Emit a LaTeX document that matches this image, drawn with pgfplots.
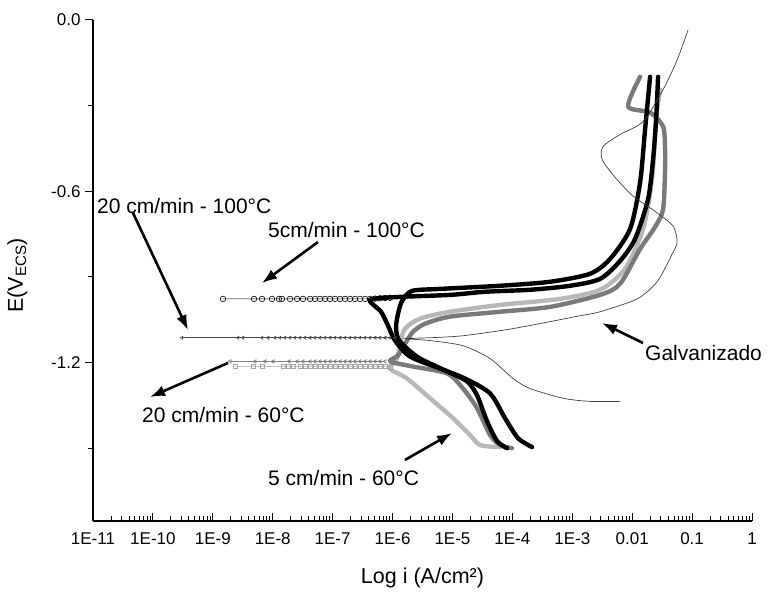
\documentclass[border=0pt]{standalone}
\usepackage{fontspec}
\setmainfont{Liberation Sans}
\usepackage{pgfplots}
\pgfplotsset{compat=1.18}
\usetikzlibrary{arrows.meta}

\tikzset{
  ann/.style={font=\fontsize{21bp}{25bp}\selectfont, inner sep=0pt},
  annarr/.style={line width=2.6bp, -{Latex[length=15bp,width=11bp]}},
  thickc/.style={line width=4.4bp, smooth, tension=0.45, line join=round, line cap=round},
  tailc/.style={line width=0.6bp, mark size=2bp, mark options={solid, line width=0.6bp}},
}

\begin{document}
\begin{tikzpicture}
\begin{axis}[
  scale only axis,
  width=659bp, height=501bp,
  xmin=-11, xmax=0, ymin=-1.755, ymax=0,
  axis x line*=bottom, axis y line*=left,
  axis line style={line width=1.2bp},
  tick style={black, line width=1bp},
  tick align=inside,
  major tick length=8bp, minor tick length=5bp,
  every major y tick/.append style={xshift=-8bp},
  every minor y tick/.append style={xshift=-5bp},
  xtick={-11,-10,-9,-8,-7,-6,-5,-4,-3,-2,-1,0},
  xticklabels={1E-11,1E-10,1E-9,1E-8,1E-7,1E-6,1E-5,1E-4,1E-3,0.01,0.1,1},
  minor xtick={-10.699,-10.523,-10.398,-10.301,-10.222,-10.155,-10.097,-10.046,
    -9.699,-9.523,-9.398,-9.301,-9.222,-9.155,-9.097,-9.046,
    -8.699,-8.523,-8.398,-8.301,-8.222,-8.155,-8.097,-8.046,
    -7.699,-7.523,-7.398,-7.301,-7.222,-7.155,-7.097,-7.046,
    -6.699,-6.523,-6.398,-6.301,-6.222,-6.155,-6.097,-6.046,
    -5.699,-5.523,-5.398,-5.301,-5.222,-5.155,-5.097,-5.046,
    -4.699,-4.523,-4.398,-4.301,-4.222,-4.155,-4.097,-4.046,
    -3.699,-3.523,-3.398,-3.301,-3.222,-3.155,-3.097,-3.046,
    -2.699,-2.523,-2.398,-2.301,-2.222,-2.155,-2.097,-2.046,
    -1.699,-1.523,-1.398,-1.301,-1.222,-1.155,-1.097,-1.046,
    -0.699,-0.523,-0.398,-0.301,-0.222,-0.155,-0.097,-0.046},
  ytick={-1.2,-0.6,0},
  yticklabels={-1.2,-0.6,0.0},
  minor ytick={-1.5,-0.9,-0.3},
  ticklabel style={font=\fontsize{17bp}{20bp}\selectfont},
  xticklabel style={yshift=-8bp},
  yticklabel style={xshift=-9bp},
  xlabel={Log i (A/cm²)},
  ylabel={E(V\textsubscript{ECS})},
  label style={font=\fontsize{21.5bp}{25bp}\selectfont},
  xlabel style={at={(axis description cs:0.5,-0.114)}, anchor=center},
  ylabel style={at={(axis description cs:-0.115,0.49)}, anchor=center},
  clip=false,
]
\coordinate (O) at (rel axis cs:0,0);

% 5 cm/min - 60C (light gray)
\addplot[thickc, color=black!28] coordinates {
  (-4.205,-1.496)(-4.539,-1.489)(-4.706,-1.454)(-4.990,-1.395)(-5.374,-1.325)
  (-5.758,-1.256)(-6.042,-1.221)(-5.925,-1.186)(-5.875,-1.134)(-5.791,-1.081)
  (-5.541,-1.046)(-5.040,-1.022)(-4.205,-0.998)(-3.204,-0.977)(-2.536,-0.945)
  (-2.119,-0.872)(-1.818,-0.732)(-1.668,-0.558)(-1.601,-0.349)(-1.534,-0.244)
};
\addplot[tailc, color=black!35, mark=square] coordinates {
  (-8.629,-1.214)(-8.329,-1.214)(-8.179,-1.214)(-7.828,-1.214)(-7.745,-1.214)
  (-7.661,-1.214)(-7.544,-1.214)(-7.461,-1.214)(-7.377,-1.214)(-7.294,-1.214)
  (-7.210,-1.214)(-7.127,-1.214)(-7.043,-1.214)(-6.960,-1.214)(-6.876,-1.214)
  (-6.793,-1.214)(-6.710,-1.214)(-6.626,-1.214)(-6.543,-1.214)(-6.459,-1.214)
  (-6.376,-1.214)(-6.292,-1.214)(-6.209,-1.214)(-6.125,-1.214)(-6.042,-1.216)
};

% 20 cm/min - 60C (medium gray)
\addplot[thickc, color=black!52] coordinates {
  (-4.005,-1.500)(-4.205,-1.489)(-4.372,-1.454)(-4.589,-1.360)(-4.823,-1.291)
  (-5.090,-1.238)(-5.658,-1.214)(-6.042,-1.196)(-5.908,-1.175)(-5.791,-1.134)
  (-5.658,-1.092)(-5.457,-1.064)(-5.040,-1.039)(-4.205,-1.022)(-3.371,-1.005)
  (-2.536,-0.963)(-2.202,-0.924)(-1.868,-0.802)(-1.618,-0.725)(-1.484,-0.663)
  (-1.451,-0.523)(-1.451,-0.453)(-1.484,-0.373)(-1.701,-0.324)(-2.068,-0.303)
  (-1.868,-0.199)
};
\addplot[tailc, color=black!50, mark=triangle, mark options={rotate=90}] coordinates {
  (-8.713,-1.196)(-8.295,-1.196)(-8.129,-1.196)(-7.995,-1.196)(-7.728,-1.196)
  (-7.594,-1.196)(-7.494,-1.196)(-7.377,-1.196)(-7.294,-1.196)(-7.210,-1.196)
  (-7.127,-1.196)(-7.043,-1.196)(-6.960,-1.196)(-6.876,-1.196)(-6.793,-1.196)
  (-6.710,-1.196)(-6.626,-1.196)(-6.543,-1.196)(-6.459,-1.196)(-6.376,-1.196)
  (-6.292,-1.196)(-6.209,-1.196)(-6.125,-1.196)
};

% 20 cm/min - 100C (black)
\addplot[thickc, color=black] coordinates {
  (-4.088,-1.500)(-4.255,-1.475)(-4.422,-1.406)(-4.589,-1.315)(-4.756,-1.266)
  (-5.090,-1.231)(-5.541,-1.186)(-5.758,-1.151)(-5.908,-1.116)(-5.942,-1.074)
  (-5.908,-1.029)(-5.841,-0.984)(-5.674,-0.949)(-5.207,-0.942)(-4.205,-0.931)
  (-3.371,-0.917)(-2.703,-0.889)(-2.369,-0.837)(-2.035,-0.732)(-1.868,-0.569)
  (-1.785,-0.384)(-1.701,-0.199)
};
\addplot[tailc, color=black!70, mark=triangle, mark size=1.8bp, mark options={rotate=90}] coordinates {
  (-9.514,-1.113)(-8.579,-1.113)(-8.496,-1.113)(-8.179,-1.113)(-8.078,-1.113)
  (-7.962,-1.113)(-7.878,-1.113)(-7.795,-1.113)(-7.711,-1.113)(-7.628,-1.113)
  (-7.544,-1.113)(-7.461,-1.113)(-7.377,-1.113)(-7.294,-1.113)(-7.210,-1.113)
  (-7.127,-1.113)(-7.043,-1.113)(-6.960,-1.113)(-6.876,-1.113)(-6.793,-1.113)
  (-6.710,-1.113)(-6.626,-1.113)(-6.543,-1.113)(-6.459,-1.113)(-6.376,-1.113)
  (-6.292,-1.113)(-6.209,-1.113)(-6.125,-1.113)(-6.042,-1.113)(-5.958,-1.113)
};

% 5 cm/min - 100C (black)
\addplot[thickc, color=black] coordinates {
  (-3.671,-1.496)(-3.905,-1.465)(-4.122,-1.395)(-4.372,-1.308)(-4.790,-1.256)
  (-5.207,-1.221)(-5.708,-1.179)(-5.958,-1.123)(-6.075,-1.071)(-6.192,-1.022)
  (-6.376,-0.980)(-5.875,-0.970)(-5.040,-0.963)(-4.456,-0.952)(-3.705,-0.945)
  (-3.037,-0.931)(-2.536,-0.907)(-2.202,-0.844)(-1.952,-0.767)(-1.735,-0.628)
  (-1.651,-0.488)(-1.601,-0.349)(-1.568,-0.199)
};
\addplot[tailc, color=black, mark=o, mark size=2.8bp, mark options={fill=white}] coordinates {
  (-8.830,-0.977)(-8.312,-0.977)(-8.179,-0.977)(-8.012,-0.977)(-7.895,-0.977)
  (-7.845,-0.977)(-7.711,-0.977)(-7.594,-0.977)(-7.494,-0.977)(-7.377,-0.977)
  (-7.294,-0.977)(-7.210,-0.977)(-7.127,-0.977)(-7.043,-0.977)(-6.960,-0.977)
  (-6.876,-0.977)(-6.793,-0.977)(-6.710,-0.977)(-6.626,-0.977)(-6.543,-0.977)
  (-6.459,-0.977)(-6.376,-0.977)(-6.292,-0.976)(-6.209,-0.975)(-6.125,-0.974)
  (-6.042,-0.973)
};

% Galvanizado (thin)
\addplot[line width=0.7bp, color=black!75, smooth, tension=0.45] coordinates {
  (-2.202,-1.336)(-2.703,-1.336)(-3.154,-1.325)(-3.705,-1.291)(-3.988,-1.256)
  (-4.372,-1.186)(-4.823,-1.141)(-5.374,-1.123)(-5.791,-1.116)(-5.374,-1.113)
  (-4.823,-1.106)(-3.988,-1.081)(-2.870,-1.036)(-2.536,-1.022)(-1.918,-0.977)
  (-1.584,-0.917)(-1.334,-0.820)(-1.250,-0.778)(-1.317,-0.722)(-1.618,-0.670)
  (-1.985,-0.617)(-2.285,-0.551)(-2.503,-0.488)(-2.486,-0.443)(-2.202,-0.401)
  (-1.818,-0.356)(-1.484,-0.244)(-1.250,-0.140)(-1.067,-0.035)
};

% annotations
\node[ann, anchor=west] at (rel axis cs:0.0061,0.6287) {20 cm/min - 100°C};
\draw[annarr] (rel axis cs:0.0607,0.6148) -- (rel axis cs:0.1442,0.3812);
\node[ann, anchor=west] at (rel axis cs:0.2656,0.5808) {5cm/min - 100°C};
\draw[annarr] (rel axis cs:0.3414,0.5569) -- (rel axis cs:0.2564,0.4749);
\node[ann, anchor=west] at (rel axis cs:0.0744,0.2116) {20 cm/min - 60°C};
\draw[annarr] (rel axis cs:0.2049,0.3154) -- (rel axis cs:0.0865,0.2475);
\node[ann, anchor=west] at (rel axis cs:0.2656,0.0858) {5 cm/min - 60°C};
\draw[annarr] (rel axis cs:0.4734,0.1218) -- (rel axis cs:0.5448,0.1756);
\node[ann, anchor=west] at (rel axis cs:0.8376,0.3353) {Galvanizado};
\draw[annarr] (rel axis cs:0.8346,0.3553) -- (rel axis cs:0.7724,0.3952);
\end{axis}
\pgfresetboundingbox
\path[use as bounding box] (O) ++(-93bp,-74bp) rectangle ++(782bp,595bp);
\end{tikzpicture}
\end{document}
